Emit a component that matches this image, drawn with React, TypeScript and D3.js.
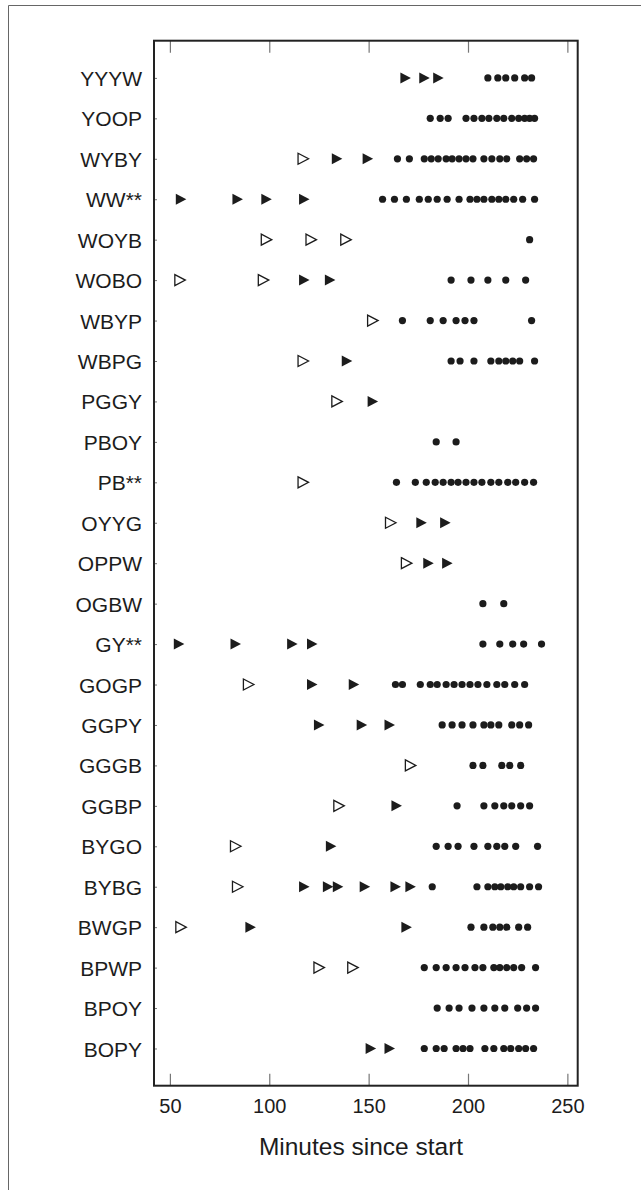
import React, { useRef, useEffect } from "react";
import * as d3 from "d3";

// rows, top to bottom
const birds = [
  "YYYW", "YOOP", "WYBY", "WW**", "WOYB", "WOBO", "WBYP", "WBPG", "PGGY",
  "PBOY", "PB**", "OYYG", "OPPW", "OGBW", "GY**", "GOGP", "GGPY", "GGGB",
  "GGBP", "BYGO", "BYBG", "BWGP", "BPWP", "BPOY", "BOPY",
];

// open triangles (minutes), one list per row
const openTriangles: number[][] = [
  [], [], [117], [], [98.5, 121, 138.5], [55, 97], [152], [117], [134],
  [], [117], [161], [169], [], [], [89.5], [], [171],
  [135], [83], [84], [55.5], [125, 142], [], [],
];

// filled triangles (minutes)
const filledTriangles: number[][] = [
  [168.5, 178, 185], [], [134, 149.5], [55.5, 84, 98.5, 117.5], [], [117.5, 130.5],
  [], [139], [152], [], [], [176.5, 188.5], [180, 189.5], [],
  [54.5, 83, 111.5, 121.5], [121.5, 142.5], [125, 146.5, 160.5], [], [164], [131],
  [117.5, 129.5, 134.5, 148, 163.5, 171], [90.5, 169], [], [], [151, 160.5],
];

// filled dots (minutes)
const dots: number[][] = [
  [210, 215, 219, 223.5, 228.5, 232],
  [181, 186, 190, 199, 203, 207, 210.5, 214.5, 218, 222, 225.5, 228.5, 231, 233.5],
  [164.5, 170.5, 178, 181.5, 185, 189, 192, 195.5, 199, 202.5, 208, 212, 216, 219.5, 226, 229.5, 233],
  [157, 163, 169, 175.5, 180, 184.5, 189.5, 195.5, 201, 204.5, 208, 212, 215.5, 219, 223, 227.5, 233.5],
  [231],
  [191.5, 201.5, 210, 219, 229],
  [167, 181, 187.5, 194, 198.5, 203, 232],
  [191.5, 196, 203, 211.5, 215.5, 219, 222.5, 226, 233.5],
  [],
  [184, 194],
  [164, 173.5, 179, 183.5, 187.5, 191.5, 195, 199, 203, 207, 211.5, 215.5, 220, 224, 228.5, 233],
  [],
  [],
  [207.5, 218],
  [207.5, 216, 222.5, 228, 237],
  [163.5, 167, 176, 181, 184.5, 189, 193, 197, 201, 205, 209.5, 214.5, 218.5, 223.5, 228.5],
  [187, 192, 197, 202.5, 208, 211.5, 215.5, 222, 226, 230.5],
  [202.5, 207.5, 217, 221, 226.5],
  [194.5, 208, 213.5, 218, 222, 226.5, 231],
  [184, 190, 195, 203, 210, 214.5, 218.5, 224, 235],
  [182, 204.5, 210, 213.5, 216.5, 220, 223, 226.5, 231, 235.5],
  [201.5, 208, 212.5, 216, 219.5, 225.5, 230],
  [178, 184, 189, 194, 198.5, 203.5, 207.5, 213, 216, 219.5, 223, 227, 234],
  [184.5, 190.5, 195.5, 202, 208, 213.5, 218.5, 225, 229.5, 234],
  [178, 184, 188, 194, 197.5, 201, 208.5, 213, 218, 221.5, 225.5, 229, 233],
];

const xTicks = [50, 100, 150, 200, 250];
const xTitle = "Minutes since start";

const W = 641;
const H = 1190;
const FONT = "'Liberation Sans', Arial, Helvetica, sans-serif";
const INK = "#1c1c1c";
const TRI = "M-5,-5.5L5.5,0L-5,5.5Z";

const App = () => {
  const svgRef = useRef<SVGSVGElement>(null);

  useEffect(() => {
    const svg = d3.select(svgRef.current);
    svg.selectAll("*").remove();

    const left = 154, right = 577.7, top = 40.7, bottom = 1085.7;

    const x = d3.scaleLinear().domain([42, 255.2]).range([left, right]);
    const y = d3.scalePoint().domain(birds).range([top, bottom]).padding(0.92);

    // outer frame (left + top only)
    svg.append("path")
      .attr("d", `M8.5,${H}V5.5H${W}`)
      .attr("fill", "none")
      .attr("stroke", "#666")
      .attr("stroke-width", 1);

    // bottom axis
    const gx = svg.append("g")
      .attr("transform", `translate(0,${bottom})`)
      .call(d3.axisBottom(x).tickValues(xTicks).tickSizeInner(-12).tickSizeOuter(0).tickPadding(13.5));
    gx.select(".domain").remove();
    gx.selectAll(".tick line").attr("stroke", "#777").attr("stroke-width", 1.2);
    gx.selectAll("text").attr("font-family", FONT).attr("font-size", 20).attr("fill", INK);

    // top ticks
    const gt = svg.append("g")
      .attr("transform", `translate(0,${top})`)
      .call(d3.axisTop(x).tickValues(xTicks).tickSizeInner(-12).tickSizeOuter(0).tickFormat(() => ""));
    gt.select(".domain").remove();
    gt.selectAll(".tick line").attr("stroke", "#777").attr("stroke-width", 1.2);

    // left axis
    const gy = svg.append("g")
      .attr("transform", `translate(${left},0)`)
      .call(d3.axisLeft(y).tickSizeInner(-3).tickSizeOuter(0).tickPadding(12));
    gy.select(".domain").remove();
    gy.selectAll(".tick line").attr("stroke", "#777").attr("stroke-width", 1);
    gy.selectAll("text")
      .attr("font-family", FONT)
      .attr("font-size", 21)
      .attr("fill", INK)
      .attr("dy", "0.36em");

    // plot frame
    svg.append("rect")
      .attr("x", left)
      .attr("y", top)
      .attr("width", right - left)
      .attr("height", bottom - top)
      .attr("fill", "none")
      .attr("stroke", "#222")
      .attr("stroke-width", 2);

    // x title
    svg.append("text")
      .attr("x", 361)
      .attr("y", 1155)
      .attr("text-anchor", "middle")
      .attr("font-family", FONT)
      .attr("font-size", 24.5)
      .attr("fill", INK)
      .text(xTitle);

    const flat = (arr: number[][]) =>
      arr.flatMap((vals, i) => vals.map((v) => ({ bird: birds[i], v })));

    const marks = svg.append("g");

    marks.selectAll(".dot")
      .data(flat(dots))
      .enter()
      .append("circle")
      .attr("cx", (d) => x(d.v))
      .attr("cy", (d) => y(d.bird))
      .attr("r", 3.6)
      .attr("fill", INK);

    marks.selectAll(".ftri")
      .data(flat(filledTriangles))
      .enter()
      .append("path")
      .attr("transform", (d) => `translate(${x(d.v)},${y(d.bird)})`)
      .attr("d", TRI)
      .attr("fill", INK);

    marks.selectAll(".otri")
      .data(flat(openTriangles))
      .enter()
      .append("path")
      .attr("transform", (d) => `translate(${x(d.v)},${y(d.bird)})`)
      .attr("d", TRI)
      .attr("fill", "white")
      .attr("stroke", INK)
      .attr("stroke-width", 1.3)
      .attr("stroke-linejoin", "miter");
  }, []);

  return (
    <div style={{ position: "absolute", left: 0, top: 0, width: W, height: H, background: "white" }}>
      <svg ref={svgRef} width={W} height={H}></svg>
    </div>
  );
};

export default App;
